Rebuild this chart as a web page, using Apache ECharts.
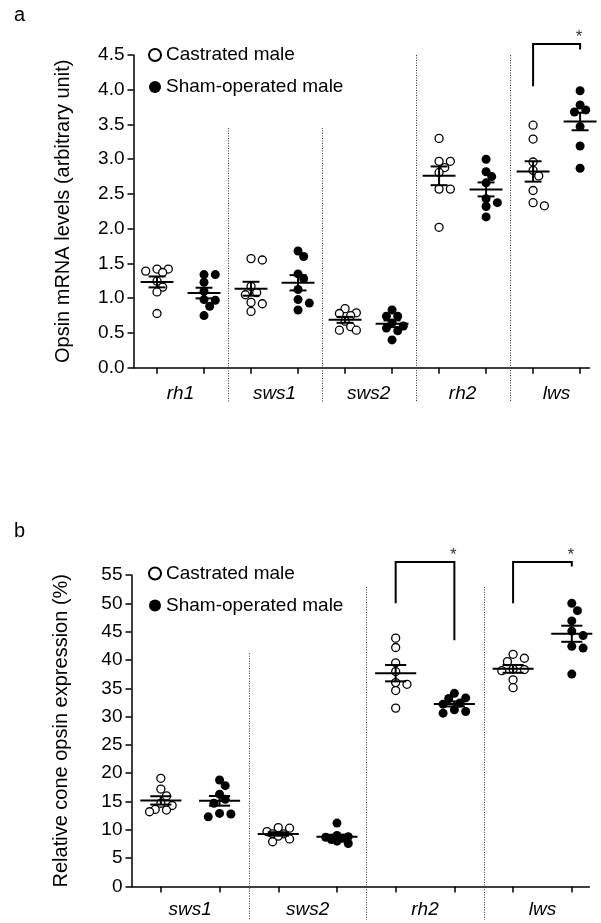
<!DOCTYPE html>
<html><head><meta charset="utf-8">
<script src="https://cdn.jsdelivr.net/npm/echarts@6/dist/echarts.min.js"></script>
<style>html,body{margin:0;padding:0;background:#fff}#c{width:601px;height:923px}</style>
</head><body><div id="c"></div>
<script>
// ---------- data ----------
const genesA = ['rh1', 'sws1', 'sws2', 'rh2', 'lws'];
const castratedA = [
  [1.42, 1.42, 1.39, 1.37, 1.245, 1.16, 1.09, 0.78],
  [1.57, 1.55, 1.17, 1.08, 1.05, 0.94, 0.92, 0.81],
  [0.85, 0.79, 0.78, 0.75, 0.67, 0.59, 0.54, 0.54],
  [3.30, 2.97, 2.97, 2.88, 2.81, 2.57, 2.57, 2.02],
  [3.49, 3.29, 2.96, 2.84, 2.76, 2.55, 2.375, 2.33]
];
const shamA = [
  [1.34, 1.34, 1.23, 1.10, 0.98, 0.97, 0.885, 0.75],
  [1.68, 1.60, 1.35, 1.28, 1.125, 0.98, 0.93, 0.83],
  [0.83, 0.74, 0.74, 0.645, 0.60, 0.57, 0.53, 0.40],
  [3.00, 2.82, 2.75, 2.66, 2.43, 2.375, 2.32, 2.17],
  [3.985, 3.78, 3.71, 3.68, 3.66, 3.47, 3.19, 2.87]
];
const yMaxA = 4.5, yStepA = 0.5;
// significance brackets: [gene index, left leg bottom, bracket top, right leg bottom]
const sigA = [[4, 4.05, 4.66, 4.58]];

const genesB = ['sws1', 'sws2', 'rh2', 'lws'];
const castratedB = [
  [19.1, 17.2, 16.0, 14.7, 14.3, 13.6, 13.5, 13.2],
  [10.4, 10.3, 9.7, 9.3, 9.3, 8.9, 8.4, 7.9],
  [43.85, 42.2, 39.5, 37.95, 36.0, 35.7, 34.6, 31.5],
  [41.0, 40.3, 39.7, 38.4, 38.3, 38.1, 36.5, 35.1]
];
const shamB = [
  [18.8, 17.8, 16.3, 15.4, 14.7, 12.9, 12.8, 12.3],
  [11.2, 9.0, 8.8, 8.7, 8.5, 8.3, 8.0, 7.6],
  [34.1, 33.3, 33.2, 32.4, 32.2, 31.2, 30.9, 30.6],
  [50.0, 48.7, 46.9, 45.1, 44.3, 42.4, 42.1, 37.5]
];
const yMaxB = 55, yStepB = 5;
const sigB = [[2, 50.0, 57.3, 43.5], [3, 50.0, 57.3, 56.5]];

const seriesNames = ['Castrated male', 'Sham-operated male'];

// ---------- layout ----------
const FONT = "'Liberation Sans', Arial, sans-serif";
const GA = {left: 133.5, top: 55, width: 456, height: 312.7, xMin: 0.5, xMax: 10.2};
const GB = {left: 131.5, top: 575, width: 457.9, height: 311.5, xMin: 0.5, xMax: 8.3};

function stats(v) {
  const n = v.length, m = v.reduce((a, b) => a + b, 0) / n;
  const sd = Math.sqrt(v.reduce((a, b) => a + (b - m) * (b - m), 0) / (n - 1));
  return [m, sd / Math.sqrt(n)];
}
// deterministic beeswarm (column scatter): horizontal offsets in axis units
function swarm(vals, pxX, pxY) {
  const h = 5.65, c = 7.4, placed = [], out = [];
  const cands = [0, h, -h, 2 * h, -2 * h];
  vals.forEach(v => {
    const y = v * pxY;
    let best = null, bestD = -1;
    for (const dx of cands) {
      const d = placed.length ? Math.min(...placed.map(p => Math.hypot(p[0] - dx, p[1] - y))) : Infinity;
      if (d >= c) { best = dx; break; }
      if (d > bestD + 0.01) { bestD = d; best = dx; }
    }
    placed.push([best, y]); out.push(best / pxX);
  });
  return out;
}

function buildPanel(idx, G, genes, cas, sham, yMax, sig, sepTops, sepBottom) {
  const pxX = G.width / (G.xMax - G.xMin), pxY = G.height / yMax;
  const groups = [cas, sham];
  const series = [];
  const meanData = [];
  groups.forEach((grp, s) => {
    const pts = [];
    grp.forEach((vals, g) => {
      const x = 2 * g + 1 + s;
      const off = swarm(vals, pxX, pxY);
      vals.forEach((v, i) => pts.push([x + off[i], v]));
      const st = stats(vals);
      meanData.push([x, st[0], st[1]]);
    });
    series.push({
      name: seriesNames[s], type: 'scatter', xAxisIndex: idx, yAxisIndex: idx,
      symbol: 'circle', symbolSize: s === 0 ? 8 : 9, z: 2, silent: true,
      itemStyle: s === 0 ? {color: '#fff', borderColor: '#000', borderWidth: 1.3, opacity: 1}
                         : {color: '#000', borderColor: '#000', borderWidth: 0, opacity: 1},
      data: pts
    });
  });
  // mean +/- SEM
  series.push({
    type: 'custom', xAxisIndex: idx, yAxisIndex: idx, z: 5, clip: false, silent: true,
    data: meanData,
    renderItem(params, api) {
      const x = api.value(0), m = api.value(1), se = api.value(2);
      const P = (a, b) => api.coord([a, b]);
      const st = {stroke: '#000', lineWidth: 2};
      const L = 0.35, C = 0.18;
      const seg = (a, b) => ({type: 'line', shape: {x1: a[0], y1: a[1], x2: b[0], y2: b[1]}, style: st});
      return {type: 'group', children: [
        seg(P(x - L, m), P(x + L, m)),
        seg(P(x, m - se), P(x, m + se)),
        seg(P(x - C, m + se), P(x + C, m + se)),
        seg(P(x - C, m - se), P(x + C, m - se))
      ]};
    }
  });
  // group separators
  series.push({
    type: 'custom', xAxisIndex: idx, yAxisIndex: idx, z: 1, clip: false, silent: true,
    data: genes.slice(1).map((g, i) => [2 * (i + 1) + 0.5, sepTops[i], sepBottom]),
    renderItem(params, api) {
      const a = api.coord([api.value(0), api.value(1)]), b = api.coord([api.value(0), api.value(2)]);
      return {type: 'line', shape: {x1: Math.round(a[0]) + 0.5, y1: a[1], x2: Math.round(b[0]) + 0.5, y2: b[1]},
        style: {stroke: '#333', lineWidth: 1, lineDash: [1, 1.5]}};
    }
  });
  // significance brackets
  series.push({
    type: 'custom', xAxisIndex: idx, yAxisIndex: idx, z: 4, clip: false, silent: true,
    data: sig.map(s => [2 * s[0] + 1, 2 * s[0] + 2, s[1], s[2], s[3]]),
    renderItem(params, api) {
      const xl = api.value(0), xr = api.value(1);
      const p1 = api.coord([xl, api.value(2)]), p2 = api.coord([xl, api.value(3)]),
            p3 = api.coord([xr, api.value(3)]), p4 = api.coord([xr, api.value(4)]);
      return {type: 'group', children: [
        {type: 'polyline', shape: {points: [p1, p2, p3, p4]}, style: {stroke: '#000', lineWidth: 2, fill: null}},
        {type: 'text', style: {text: '*', x: p3[0] - 1, y: p3[1] + 2, align: 'center', verticalAlign: 'bottom',
          fontSize: 17, fontFamily: FONT, fill: '#333'}}
      ]};
    }
  });
  const tickVals = [], labVals = [];
  for (let i = 1; i <= genes.length * 2; i++) tickVals.push(i);
  genes.forEach((g, i) => labVals.push(2 * i + 1.5));
  const xAxis = {
    gridIndex: idx, type: 'value', min: G.xMin, max: G.xMax,
    axisLine: {show: true, onZero: false, lineStyle: {color: '#000', width: 1.5}},
    axisTick: {show: true, customValues: tickVals, length: 6, lineStyle: {color: '#000', width: 1.5}},
    axisLabel: {customValues: labVals, formatter: v => genes[Math.round((v - 1.5) / 2)],
      fontSize: 19, fontStyle: 'italic', fontFamily: FONT, color: '#000', margin: idx === 0 ? 17 : 14},
    splitLine: {show: false}
  };
  return {series, xAxis};
}

const pA = buildPanel(0, GA, genesA, castratedA, shamA, yMaxA, sigA, [3.45, 3.45, 4.5, 4.5], -0.5);
const pB = buildPanel(1, GB, genesB, castratedB, shamB, yMaxB, sigB, [41.2, 52.9, 52.9], -5.9);

function yAxis(idx, max, step, name, dec) {
  return {
    gridIndex: idx, type: 'value', min: 0, max: max, interval: step,
    axisLine: {show: true, onZero: false, lineStyle: {color: '#000', width: 1.5}},
    axisTick: {show: true, length: 6, lineStyle: {color: '#000', width: 1.5}},
    axisLabel: {formatter: v => v.toFixed(dec), fontSize: 19, fontFamily: FONT, color: '#000', margin: 9},
    splitLine: {show: false},
    name: name, nameLocation: 'middle', nameGap: 60,
    nameTextStyle: {fontSize: 20, fontFamily: FONT, color: '#000'}
  };
}

const legendBase = {
  orient: 'vertical', itemWidth: 12, itemHeight: 12, itemGap: 13, selectedMode: false,
  textStyle: {fontSize: 19, fontFamily: FONT, color: '#000'}, data: seriesNames
};

const chart = echarts.init(document.getElementById('c'), null, {renderer: 'canvas'});
chart.setOption({
  animation: false,
  backgroundColor: '#fff',
  grid: [
    {left: GA.left, top: GA.top, width: GA.width, height: GA.height},
    {left: GB.left, top: GB.top, width: GB.width, height: GB.height}
  ],
  xAxis: [pA.xAxis, pB.xAxis],
  yAxis: [yAxis(0, yMaxA, yStepA, 'Opsin mRNA levels (arbitrary unit)', 1),
          yAxis(1, yMaxB, yStepB, 'Relative cone opsin expression (%)', 0)],
  legend: [Object.assign({left: 143, top: 40.5}, legendBase), Object.assign({left: 143, top: 559}, legendBase)],
  graphic: [
    {type: 'text', left: 14, top: 5, style: {text: 'a', fontSize: 20, fontFamily: FONT, fill: '#000'}},
    {type: 'text', left: 14, top: 521, style: {text: 'b', fontSize: 20, fontFamily: FONT, fill: '#000'}}
  ],
  series: pA.series.concat(pB.series)
});
</script></body></html>
